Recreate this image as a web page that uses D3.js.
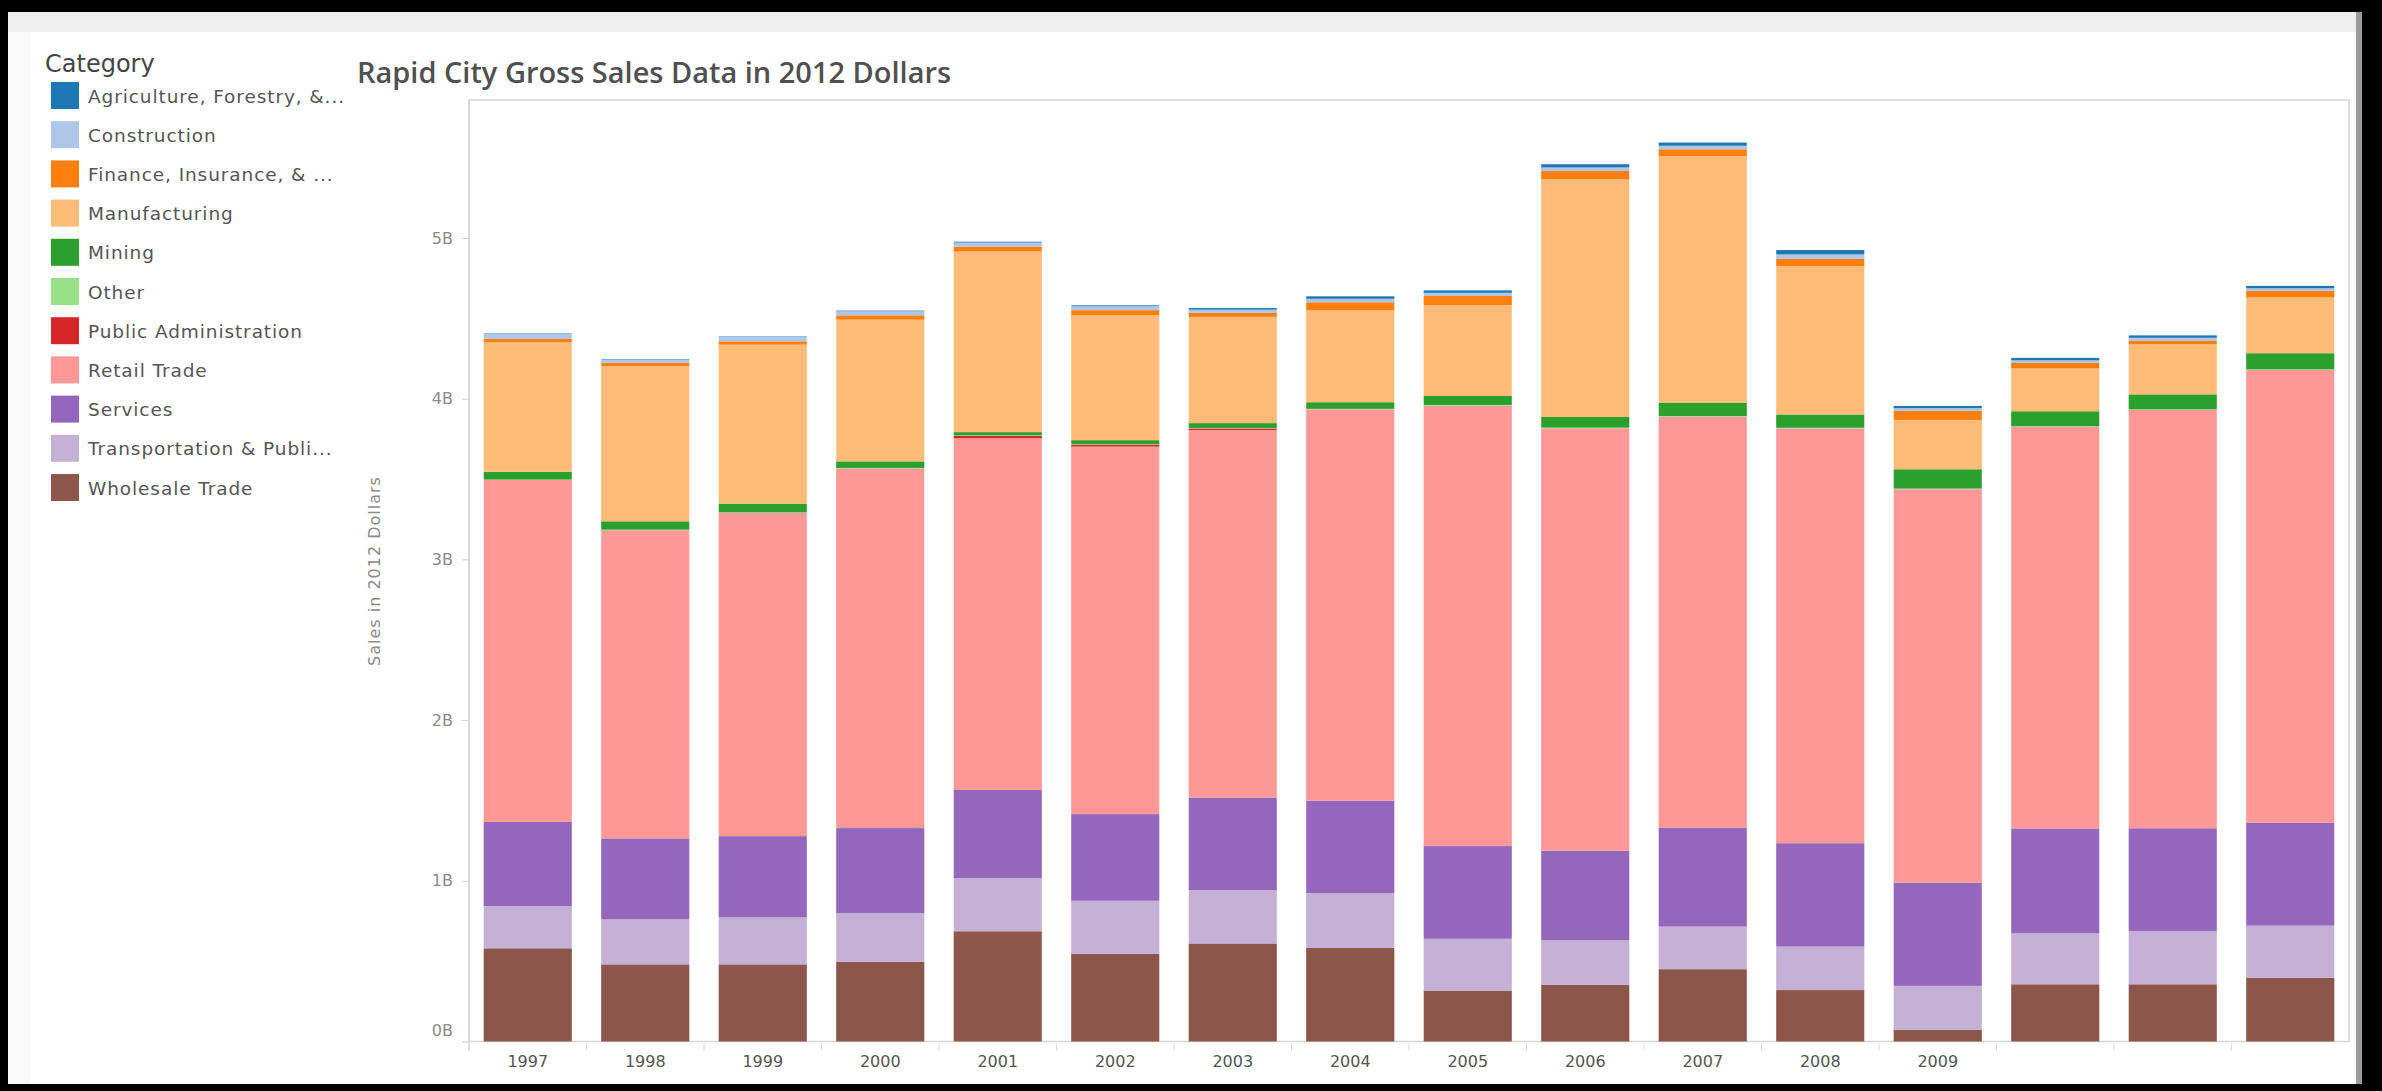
<!DOCTYPE html>
<html>
<head>
<meta charset="utf-8">
<script src="https://cdn.jsdelivr.net/npm/d3@7"></script>
<style>
  html, body { margin: 0; padding: 0; background: #fff; }
  svg { display: block; }
</style>
</head>
<body>
<svg id="chart" width="2382" height="1091"></svg>
<script>
// ─── Data ─────────────────────────────────────────────────────────────────────

const YEARS    = ["1997","1998","1999","2000","2001","2002","2003","2004",
                  "2005","2006","2007","2008","2009","2010","2011","2012"];
const X_LABELS = ["1997","1998","1999","2000","2001","2002","2003","2004",
                  "2005","2006","2007","2008","2009","","",""];
const Y_TICKS  = [0, 1, 2, 3, 4, 5];
const Y_LABELS = ["0B","1B","2B","3B","4B","5B"];

// legend order (top to bottom)
const CATEGORIES = ["agri","constr","finance","manuf","mining","other",
                    "pubadmin","retail","services","transport","wholesale"];
const LEGEND_LABELS = ["Agriculture, Forestry, &...", "Construction", "Finance, Insurance, & ...",
                       "Manufacturing", "Mining", "Other", "Public Administration",
                       "Retail Trade", "Services", "Transportation & Publi...", "Wholesale Trade"];
const COLORS = ["#1f77b4","#aec7e8","#ff7f0e","#ffbb78","#2ca02c","#98df8a",
                "#d62728","#ff9896","#9467bd","#c5b0d5","#8c564b"];

// billions of 2012 dollars, 1997..2012
const AGRICULTURE   = [0.003,0.003,0.003,0.004,0.005,0.005,0.010,0.015,0.015,0.020,0.020,0.027,0.014,0.015,0.015,0.015];
const CONSTRUCTION  = [0.031,0.021,0.027,0.025,0.025,0.025,0.020,0.022,0.020,0.022,0.022,0.027,0.017,0.016,0.020,0.016];
const FINANCE       = [0.021,0.021,0.021,0.027,0.031,0.031,0.025,0.050,0.056,0.052,0.042,0.046,0.056,0.035,0.021,0.041];
const MANUFACTURING = [0.806,0.965,0.989,0.882,1.124,0.778,0.661,0.572,0.566,1.479,1.535,0.923,0.307,0.266,0.311,0.347];
const MINING        = [0.048,0.052,0.054,0.041,0.020,0.025,0.030,0.041,0.056,0.066,0.083,0.083,0.120,0.093,0.093,0.100];
const OTHER         = [0.003,0.003,0.003,0.003,0.003,0.003,0.003,0.003,0.004,0.004,0.004,0.004,0.004,0.004,0.004,0.004];
const PUBLIC_ADMIN  = [0.000,0.000,0.000,0.000,0.015,0.012,0.010,0.000,0.000,0.000,0.000,0.000,0.000,0.000,0.000,0.000];
const RETAIL        = [2.128,1.918,2.012,2.238,2.189,2.287,2.287,2.435,2.741,2.628,2.559,2.581,2.448,2.499,2.603,2.817];
const SERVICES      = [0.523,0.504,0.506,0.529,0.548,0.539,0.577,0.576,0.577,0.558,0.614,0.643,0.643,0.653,0.639,0.641];
const TRANSPORT     = [0.263,0.280,0.292,0.302,0.331,0.331,0.331,0.341,0.322,0.278,0.265,0.271,0.274,0.317,0.332,0.324];
const WHOLESALE     = [0.580,0.480,0.480,0.497,0.686,0.545,0.610,0.582,0.317,0.352,0.450,0.320,0.072,0.356,0.356,0.397];

const SERIES = {
  agri: AGRICULTURE, constr: CONSTRUCTION, finance: FINANCE, manuf: MANUFACTURING,
  mining: MINING, other: OTHER, pubadmin: PUBLIC_ADMIN, retail: RETAIL,
  services: SERVICES, transport: TRANSPORT, wholesale: WHOLESALE,
};

// ─── Layout ───────────────────────────────────────────────────────────────────

const W = 2382, H = 1091;
const plot = { left: 469, right: 2349, top: 100, bottom: 1041.5 };

const svg = d3.select("#chart");

// outer frame: black border + light band
svg.append("rect").attr("x", 0).attr("y", 0).attr("width", W).attr("height", H).attr("fill", "#000");
svg.append("rect").attr("x", 8).attr("y", 12).attr("width", 2354).attr("height", 1072).attr("fill", "#f9f9f9");
svg.append("rect").attr("x", 8).attr("y", 12).attr("width", 2354).attr("height", 20).attr("fill", "#efefef");
svg.append("rect").attr("x", 30).attr("y", 32).attr("width", 2326).attr("height", 1052).attr("fill", "#fff");
svg.append("rect").attr("x", 2356).attr("y", 12).attr("width", 6).attr("height", 1072).attr("fill", "#9a9a9a");

// ─── Scales ───────────────────────────────────────────────────────────────────

const x = d3.scaleBand()
  .domain(YEARS)
  .range([plot.left, plot.right])
  .paddingInner(0.25)
  .paddingOuter(0.125);

const y = d3.scaleLinear()
  .domain([0, (plot.bottom - plot.top) / 160.7])
  .range([plot.bottom, plot.top]);

const color = d3.scaleOrdinal().domain(CATEGORIES).range(COLORS);

// ─── Stack (bottom = wholesale) ───────────────────────────────────────────────

const rows = YEARS.map((yr, i) => {
  const r = { year: yr };
  CATEGORIES.forEach(c => { r[c] = SERIES[c][i]; });
  return r;
});

const stack = d3.stack().keys([...CATEGORIES].reverse());
const layers = stack(rows);

// plot frame
svg.append("rect")
  .attr("x", plot.left).attr("y", plot.top)
  .attr("width", plot.right - plot.left).attr("height", plot.bottom - plot.top)
  .attr("fill", "none").attr("stroke", "#d6d6d6").attr("stroke-width", 1.5);

svg.append("g")
  .selectAll("g")
  .data(layers)
  .join("g")
  .attr("fill", d => color(d.key))
  .selectAll("rect")
  .data(d => d)
  .join("rect")
  .attr("x", d => x(d.data.year))
  .attr("width", x.bandwidth())
  .attr("y", d => y(d[1]))
  .attr("height", d => Math.max(0, y(d[0]) - y(d[1])));

// ─── Axes ─────────────────────────────────────────────────────────────────────

const yAxis = d3.axisLeft(y)
  .tickValues(Y_TICKS)
  .tickFormat((d, i) => Y_LABELS[i])
  .tickSize(6)
  .tickPadding(9);

const gy = svg.append("g").attr("transform", `translate(${plot.left - 1},0)`).call(yAxis);
gy.select(".domain").remove();
gy.selectAll(".tick line").attr("stroke", "#d0d0d0");
gy.selectAll(".tick text")
  .attr("fill", "#8a8a8a")
  .style("font-family", "'DejaVu Sans', sans-serif")
  .style("font-size", "16px");
// Tableau nudges the zero label above the baseline
gy.selectAll(".tick").filter(d => d === 0).select("text").attr("dy", "-0.4em");

svg.append("line")
  .attr("x1", plot.left).attr("x2", plot.left)
  .attr("y1", plot.top).attr("y2", plot.bottom + 9)
  .attr("stroke", "#d6d6d6").attr("stroke-width", 1.5);

const xAxis = d3.axisBottom(x)
  .tickFormat((d, i) => X_LABELS[i])
  .tickSize(0)
  .tickPadding(14);

const gx = svg.append("g").attr("transform", `translate(0,${plot.bottom})`).call(xAxis);
gx.select(".domain").remove();
gx.selectAll(".tick text")
  .attr("fill", "#555")
  .style("font-family", "'DejaVu Sans', sans-serif")
  .style("font-size", "16px");

// band separator ticks under the axis
svg.append("g")
  .selectAll("line")
  .data(YEARS.slice(1))
  .join("line")
  .attr("x1", d => x(d) - x.step() * x.paddingInner() / 2)
  .attr("x2", d => x(d) - x.step() * x.paddingInner() / 2)
  .attr("y1", plot.bottom + 2).attr("y2", plot.bottom + 9)
  .attr("stroke", "#dcdcdc");

svg.append("text")
  .attr("transform", `translate(380,571) rotate(-90)`)
  .attr("text-anchor", "middle")
  .attr("fill", "#8a8a8a")
  .style("font-family", "'DejaVu Sans', sans-serif")
  .style("font-size", "16px")
  .style("letter-spacing", "1px")
  .text("Sales in 2012 Dollars");

// ─── Title ────────────────────────────────────────────────────────────────────

const title = svg.append("text")
  .attr("x", 357).attr("y", 83)
  .attr("fill", "#505050")
  .style("font-family", "'Open Sans', sans-serif")
  .style("font-weight", 600)
  .style("font-size", "24px")
  .text("Rapid City Gross Sales Data in 2012 Dollars");
{
  const len = title.node().getComputedTextLength();
  title.style("font-size", (24 * 594 / len).toFixed(2) + "px");
}

// ─── Legend ───────────────────────────────────────────────────────────────────

const legend = svg.append("g");

legend.append("text")
  .attr("x", 45).attr("y", 72)
  .attr("fill", "#444")
  .style("font-family", "'DejaVu Sans', sans-serif")
  .style("font-size", "24px")
  .text("Category");

const items = legend.selectAll("g.item")
  .data(CATEGORIES)
  .join("g")
  .attr("class", "item")
  .attr("transform", (d, i) => `translate(51,${82 + i * 39.2})`);

items.append("rect")
  .attr("width", 28).attr("height", 27)
  .attr("fill", d => color(d));

items.append("text")
  .attr("x", 37).attr("y", 14)
  .attr("dy", "0.36em")
  .attr("fill", "#555")
  .style("font-family", "'DejaVu Sans', sans-serif")
  .style("font-size", "18.5px")
  .style("letter-spacing", "0.9px")
  .text((d, i) => LEGEND_LABELS[i]);
</script>
</body>
</html>
